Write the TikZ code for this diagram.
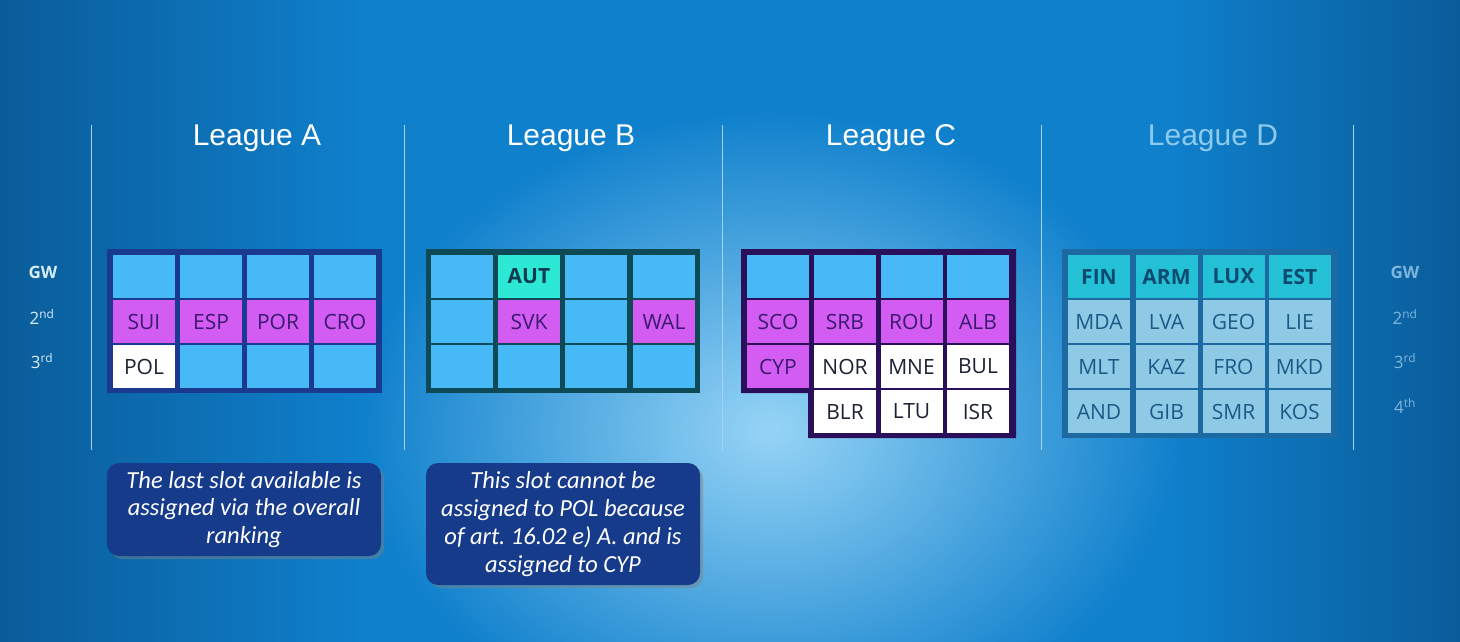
\documentclass[tikz,border=0pt]{standalone}
\usepackage{fontspec}
\setmainfont{Open Sans}
\newfontfamily\titlefont{Liberation Sans}
\newfontfamily\callfont{Carlito}
\usetikzlibrary{shadows}
\definecolor{bgbase}{HTML}{0F80CC}
\definecolor{bgedge}{HTML}{0A5B98}
\definecolor{bgglow}{HTML}{96D4F6}
\definecolor{divline}{HTML}{A6D4F0}
\definecolor{lightcell}{HTML}{47B9F6}
\definecolor{magcell}{HTML}{D35CF2}
\definecolor{magtext}{HTML}{3A1A6E}
\definecolor{whitetext}{HTML}{1C2233}
\definecolor{autcell}{HTML}{2EE8D6}
\definecolor{auttext}{HTML}{0D3B4F}
\definecolor{frameA}{HTML}{1A3A8F}
\definecolor{frameB}{HTML}{0E4A55}
\definecolor{frameC}{HTML}{2A0F5A}
\definecolor{frameD}{HTML}{1D6AA3}
\definecolor{dcell}{HTML}{8ECAE6}
\definecolor{dhead}{HTML}{23C0D6}
\definecolor{dtext}{HTML}{1B5A86}
\definecolor{dheadtext}{HTML}{0D4A70}
\definecolor{callfill}{HTML}{173B8B}
\definecolor{gwleft}{HTML}{D8ECF8}
\definecolor{gwright}{HTML}{7FB5DC}
\definecolor{leagueD}{HTML}{8ECAEC}
\begin{document}
\begin{tikzpicture}[x=1pt,y=-1pt,
  cellbox/.style={minimum width=62pt,minimum height=43pt,inner sep=0pt,
    font=\fontsize{21}{24}\selectfont},
  lightc/.style={cellbox,fill=lightcell},
  magc/.style={cellbox,fill=magcell,text=magtext},
  whitec/.style={cellbox,fill=white,text=whitetext},
  autc/.style={cellbox,fill=autcell,text=auttext,font=\fontsize{21}{24}\selectfont\bfseries},
  dc/.style={cellbox,fill=dcell,text=dtext},
  dh/.style={cellbox,fill=dhead,text=dheadtext,font=\fontsize{21}{24}\selectfont\bfseries},
  title/.style={font=\titlefont\fontsize{30}{34}\selectfont,text=white},
  gwlab/.style={font=\fontsize{17}{19}\selectfont,text=gwleft},
  gwlabr/.style={font=\fontsize{17}{19}\selectfont,text=gwright},
  divider/.style={draw=divline,line width=1pt},
  callout/.style={fill=callfill,rounded corners=12pt,
    drop shadow={shadow xshift=3pt,shadow yshift=-3pt,opacity=0.45},
    text=white,align=center,inner sep=0pt,
    font=\callfont\itshape\fontsize{24.5}{27.8}\selectfont}
]
\useasboundingbox (0,0) rectangle (1460,641);
% background
\begin{scope}
\clip (0,0) rectangle (1460,641);
\fill[bgbase] (-10,-10) rectangle (1470,651);
\shade[left color=bgedge,right color=bgbase] (-10,-10) rectangle (360,651);
\shade[left color=bgbase,right color=bgedge] (1170,-10) rectangle (1470,651);
\shade[inner color=bgglow,outer color=bgbase] (770,430) ellipse (410 and 320);
\end{scope}

% dividers
\foreach \xx/\nm in {91/d1,404/d2,722/d3,1041/d4,1353/d5}{
  \coordinate (\nm t) at (\xx,125);
  \coordinate (\nm b) at (\xx,450);
  \draw[divider] (\nm t) -- (\nm b);
}

% titles
\node[title] (tA) at (257,138) {League A};
\node[title] (tB) at (571,138) {League B};
\node[title] (tC) at (891,138) {League C};
\node[title,text=leagueD] (tD) at (1213,138) {League D};

% GW labels
\node[gwlab,font=\fontsize{17}{19}\selectfont\bfseries] (gwL) at (43,272) {GW};
\node[gwlab] (g2L) at (42,317) {2\textsuperscript{nd}};
\node[gwlab] (g3L) at (42,361) {3\textsuperscript{rd}};
\node[gwlabr,font=\fontsize{17}{19}\selectfont\bfseries] (gwR) at (1405,272) {GW};
\node[gwlabr] (g2R) at (1405,317) {2\textsuperscript{nd}};
\node[gwlabr] (g3R) at (1405,361) {3\textsuperscript{rd}};
\node[gwlabr] (g4R) at (1405,406) {4\textsuperscript{th}};

% frames
\fill[frameA] (107,249) rectangle (382,393);
\fill[frameB] (426,249) rectangle (700,393);
\fill[frameC] (741,249) -- (1016,249) -- (1016,438) -- (808,438) -- (808,393) -- (741,393) -- cycle;
\fill[frameD] (1062,249) rectangle (1337,438);

% League A cells (x0=113)
\node[lightc] (A11) at (144,276.5) {};
\node[lightc] (A12) at (211,276.5) {};
\node[lightc] (A13) at (278,276.5) {};
\node[lightc] (A14) at (345,276.5) {};
\node[magc] (A21) at (144,321.5) {SUI};
\node[magc] (A22) at (211,321.5) {ESP};
\node[magc] (A23) at (278,321.5) {POR};
\node[magc] (A24) at (345,321.5) {CRO};
\node[whitec] (A31) at (144,366.5) {POL};
\node[lightc] (A32) at (211,366.5) {};
\node[lightc] (A33) at (278,366.5) {};
\node[lightc] (A34) at (345,366.5) {};

% League B cells (x0=431)
\node[lightc] (B11) at (462,276.5) {};
\node[autc] (B12) at (529,276.5) {AUT};
\node[lightc] (B13) at (596,276.5) {};
\node[lightc] (B14) at (664,276.5) {};
\node[lightc] (B21) at (462,321.5) {};
\node[magc] (B22) at (529,321.5) {SVK};
\node[lightc] (B23) at (596,321.5) {};
\node[magc] (B24) at (664,321.5) {WAL};
\node[lightc] (B31) at (462,366.5) {};
\node[lightc] (B32) at (529,366.5) {};
\node[lightc] (B33) at (596,366.5) {};
\node[lightc] (B34) at (664,366.5) {};

% League C cells (x0=747)
\node[lightc] (C11) at (778,276.5) {};
\node[lightc] (C12) at (845,276.5) {};
\node[lightc] (C13) at (911.5,276.5) {};
\node[lightc] (C14) at (978,276.5) {};
\node[magc] (C21) at (778,321.5) {SCO};
\node[magc] (C22) at (845,321.5) {SRB};
\node[magc] (C23) at (911.5,321.5) {ROU};
\node[magc] (C24) at (978,321.5) {ALB};
\node[magc] (C31) at (778,366.5) {CYP};
\node[whitec] (C32) at (845,366.5) {NOR};
\node[whitec] (C33) at (911.5,366.5) {MNE};
\node[whitec] (C34) at (978,366.5) {BUL};
\node[whitec] (C42) at (845,411.5) {BLR};
\node[whitec] (C43) at (911.5,411.5) {LTU};
\node[whitec] (C44) at (978,411.5) {ISR};

% League D cells (x0=1068)
\node[dh] (D11) at (1099,276.5) {FIN};
\node[dh] (D12) at (1166.5,276.5) {ARM};
\node[dh] (D13) at (1233.5,276.5) {LUX};
\node[dh] (D14) at (1299.5,276.5) {EST};
\node[dc] (D21) at (1099,321.5) {MDA};
\node[dc] (D22) at (1166.5,321.5) {LVA};
\node[dc] (D23) at (1233.5,321.5) {GEO};
\node[dc] (D24) at (1299.5,321.5) {LIE};
\node[dc] (D31) at (1099,366.5) {MLT};
\node[dc] (D32) at (1166.5,366.5) {KAZ};
\node[dc] (D33) at (1233.5,366.5) {FRO};
\node[dc] (D34) at (1299.5,366.5) {MKD};
\node[dc] (D41) at (1099,411.5) {AND};
\node[dc] (D42) at (1166.5,411.5) {GIB};
\node[dc] (D43) at (1233.5,411.5) {SMR};
\node[dc] (D44) at (1299.5,411.5) {KOS};

% callouts
\node[callout,minimum width=274pt,minimum height=93pt] (call1) at (244,509.5)
  {The last slot available is\\assigned via the overall\\ranking};
\node[callout,minimum width=274pt,minimum height=122pt] (call2) at (563,524)
  {This slot cannot be\\assigned to POL because\\of art.\ 16.02 e) A.\ and is\\assigned to CYP};
\end{tikzpicture}
\end{document}
